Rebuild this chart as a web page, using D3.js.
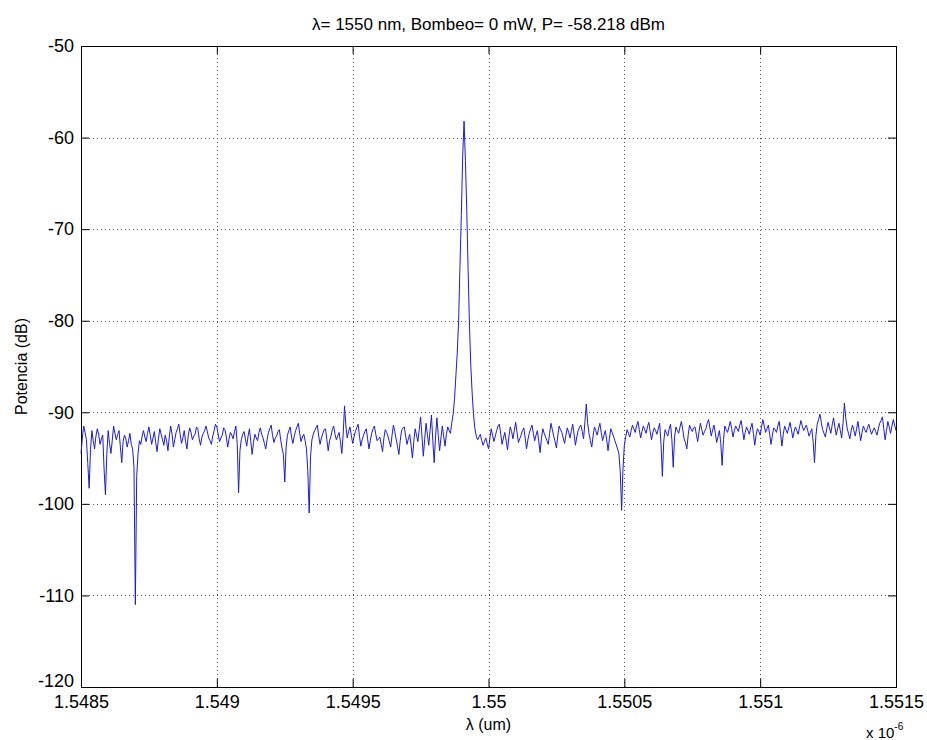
<!DOCTYPE html>
<html>
<head>
<meta charset="utf-8">
<script src="https://cdn.jsdelivr.net/npm/d3@7"></script>
<style>
    body { margin: 0; background: #fff; }
    svg text { font-family: "Liberation Sans", Arial, sans-serif; fill: #000; }
</style>
</head>
<body>
<div id="chart"></div>
<script>
// wavelength grid (um), sampled every lambdaStep
const lambdaStart = 1.5485;
const lambdaStep = 0.000005;

// measured power (dB), one value per wavelength sample
const power = [
    -94.5, -92.8, -91.5, -92.2, -93, -95.6, -98.3, -94.1, -92, -93.1, -94, -92.6, -91.8, -92.4, -93.5, -92.9, -92.5, -96.2, -99, -94.6,
    -92, -93.4, -94.5, -93.1, -91.5, -92.3, -93, -92.4, -92, -93.8, -95.5, -93.2, -92.5, -92.9, -93.8, -93.1, -92.3, -93.5, -94, -96,
    -111, -97, -94.5, -93.1, -93.5, -92.6, -92, -92.7, -93.2, -92.3, -91.6, -92.5, -93.5, -92.8, -92.1, -93.3, -94.3, -92.9, -91.8, -92.4,
    -93, -93.6, -92.5, -93.1, -94.2, -92.7, -91.5, -92.3, -93.8, -93, -92.2, -91.8, -91.3, -92.4, -93.4, -92.8, -92, -93.2, -94, -92.5,
    -91.7, -92.2, -93, -92.6, -92.4, -91.6, -91.8, -92.9, -93.6, -92.7, -92.3, -92, -91.5, -92.1, -92.8, -93.1, -93.5, -92.6, -92, -91.3,
    -91.6, -92.4, -93.2, -92.8, -92.5, -91.7, -91.9, -92.7, -93.8, -92.9, -92.2, -92.5, -92.9, -92.1, -91.5, -93.4, -98.8, -94.2, -93, -92.4,
    -92.1, -92.9, -93.7, -92.6, -91.8, -93.2, -94.6, -93.3, -92.4, -92.8, -93.1, -92.2, -91.7, -92.4, -92.8, -93.4, -94, -93, -92.2, -91.8,
    -91.4, -92.5, -93.3, -92.8, -92.6, -92.1, -91.9, -93, -93.9, -94.6, -97.6, -93.8, -92.5, -92, -91.6, -92.7, -93.4, -92.6, -92, -91.6,
    -91.2, -92.3, -93.2, -92.7, -92.4, -93.1, -94, -96.5, -101, -94.8, -93, -92.4, -92, -91.7, -91.4, -92.6, -93.5, -92.8, -92.3, -91.9,
    -91.8, -93, -94.2, -93.1, -92.6, -91.9, -91.5, -92.4, -93, -92.6, -92.2, -93.2, -94.5, -92.4, -89.3, -91.5, -92.8, -92.1, -91.6, -92.5,
    -93.4, -92.7, -92.1, -91.7, -91.3, -92.6, -93.7, -93, -92.5, -92.1, -91.8, -92.9, -94, -93.1, -92.3, -91.8, -91.5, -92.4, -93.1, -92.9,
    -92.7, -93.5, -94.3, -92.8, -91.9, -92.2, -92.6, -93.2, -93.8, -92.5, -91.4, -92.1, -92.9, -93.7, -94.6, -93.1, -92, -91.7, -91.6, -92.6,
    -93.5, -92.9, -92.4, -93.6, -95, -93.2, -91.8, -92.5, -93.2, -91.9, -90.5, -92.6, -94.8, -93, -91.2, -92.4, -93.6, -92, -90.3, -93.1,
    -95.5, -92.7, -90.6, -92.5, -94.2, -92.8, -91.5, -92.6, -93.7, -92.4, -91.6, -92, -92.3, -91.1, -90.2, -88.5, -86, -83.5, -80, -74,
    -68.5, -62, -58.218, -62.5, -68, -74.5, -80.5, -85, -88, -90.3, -91.8, -92.6, -93, -92.7, -92.4, -93.1, -93.6, -93.2, -92.8, -93.4,
    -94, -92.9, -91.8, -92.5, -93.2, -92.6, -92, -91.5, -91.3, -92.4, -93.5, -92.8, -92.2, -93.1, -94.1, -92.7, -91.6, -92.1, -92.9, -92,
    -91.1, -92.2, -93.3, -92.9, -92.5, -92, -91.7, -92.8, -94, -93, -92.3, -91.8, -91.4, -92.3, -93.1, -92.5, -92, -93.2, -94.4, -92.8,
    -91.8, -92.3, -92.7, -93.1, -93.5, -92.3, -91.2, -91.9, -92.6, -93.2, -93.9, -92.6, -91.5, -91.9, -92.2, -92.8, -93.4, -92.5, -91.7, -92.2,
    -92.8, -92, -91.3, -92.4, -93.6, -92.7, -92, -91.6, -91.4, -92.1, -92.9, -91, -89.1, -91.2, -92.3, -93.1, -93.8, -92.6, -91.6, -92,
    -92.5, -91.8, -91.2, -92.2, -93.1, -92.5, -92, -93, -94.2, -92.9, -91.8, -92.2, -92.6, -93.1, -93.5, -94, -94.5, -96.5, -100.7, -96.2,
    -93.6, -92.7, -91.9, -92.3, -92.7, -92, -91.4, -91.8, -92.2, -91.5, -91, -91.9, -92.8, -92.1, -91.5, -91.9, -92.3, -91.6, -91.1, -92.1,
    -93, -92.2, -91.7, -92, -92.4, -91.8, -91.2, -93.5, -97, -93.2, -91.9, -92.3, -92.6, -91.8, -91.3, -93, -96, -92.7, -91.6, -92,
    -92.3, -91.6, -91, -91.9, -92.9, -93.3, -94, -92.5, -91.4, -91.8, -92.1, -91.7, -91.6, -92.4, -93.2, -92.1, -91.2, -91.9, -92.5, -92.1,
    -91.8, -91.2, -90.8, -91.7, -92.6, -91.9, -91.4, -92.3, -93.3, -92.6, -92, -93.4, -95.8, -93, -91.5, -91.9, -92.2, -91.6, -91, -91.8,
    -92.7, -92, -91.5, -91.8, -92.1, -91.4, -90.9, -91.9, -93, -92.2, -91.6, -92, -92.4, -91.7, -91.2, -92.3, -93.6, -92.5, -91.8, -92.1,
    -92.5, -91.6, -90.8, -91.5, -92.2, -91.8, -91.4, -92.4, -93.5, -92.5, -91.7, -91.9, -92.2, -91.5, -91, -92.3, -93.7, -92.4, -91.5, -91.9,
    -92.3, -91.7, -91.1, -91.9, -92.8, -92.1, -91.6, -92, -92.4, -91.6, -90.9, -91.5, -92, -91.7, -91.4, -92, -92.6, -92.2, -91.8, -93.2,
    -95.5, -92.6, -91.3, -90.8, -90.2, -91.1, -91.9, -92.3, -92.7, -91.8, -91.1, -91.7, -92.3, -91.4, -90.6, -91.6, -92.5, -91.8, -91.2, -92,
    -92.8, -91.2, -89, -90.6, -91.7, -92.3, -92.9, -92, -91.4, -92, -92.6, -91.8, -91, -92.1, -93.1, -92.2, -91.5, -91.9, -92.2, -91.7,
    -91.3, -91.9, -92.4, -92, -91.7, -92.1, -92.5, -91.8, -91.2, -90.9, -90.5, -91.8, -93, -92, -91, -91.6, -92.3, -91.5, -90.8, -91.4,
    -92
];

const xTicks = [1.5485, 1.549, 1.5495, 1.55, 1.5505, 1.551, 1.5515];
const xTickLabels = ['1.5485', '1.549', '1.5495', '1.55', '1.5505', '1.551', '1.5515'];
const yTicks = [-120, -110, -100, -90, -80, -70, -60, -50];

const chartTitle = 'λ= 1550 nm, Bombeo= 0 mW, P= -58.218 dBm';
const xLabel = 'λ (um)';
const yLabel = 'Potencia (dB)';

const data = power.map((p, i) => ({ lambda: lambdaStart + i * lambdaStep, p: p }));

const W = 927, H = 740;
const margin = { top: 46, right: 31, bottom: 53, left: 81 };
const width = W - margin.left - margin.right;
const height = H - margin.top - margin.bottom;

const svg = d3.select('#chart')
    .append('svg')
    .attr('width', W)
    .attr('height', H);

const g = svg.append('g')
    .attr('transform', `translate(${margin.left}, ${margin.top})`);

const xScale = d3.scaleLinear()
    .domain([1.5485, 1.5515])
    .range([0, width]);

const yScale = d3.scaleLinear()
    .domain([-120, -50])
    .range([height, 0]);

// dotted grid
g.append('g')
    .selectAll('line')
    .data(xTicks.slice(1, -1))
    .enter()
    .append('line')
    .attr('x1', d => Math.round(xScale(d)) + 0.5)
    .attr('x2', d => Math.round(xScale(d)) + 0.5)
    .attr('y1', 0)
    .attr('y2', height)
    .attr('stroke', '#555')
    .attr('stroke-dasharray', '1,3');

g.append('g')
    .selectAll('line')
    .data(yTicks.slice(1, -1))
    .enter()
    .append('line')
    .attr('x1', 0)
    .attr('x2', width)
    .attr('y1', d => Math.round(yScale(d)) + 0.5)
    .attr('y2', d => Math.round(yScale(d)) + 0.5)
    .attr('stroke', '#555')
    .attr('stroke-dasharray', '1,3');

// axes with inward ticks on all four sides
const xAxisBottom = d3.axisBottom(xScale).tickValues(xTicks).tickSize(-8).tickFormat((d, i) => xTickLabels[i]).tickPadding(8);
const xAxisTop = d3.axisTop(xScale).tickValues(xTicks).tickSize(-8).tickFormat('');
const yAxisLeft = d3.axisLeft(yScale).tickValues(yTicks).tickSize(-8).tickFormat(d => String(d)).tickPadding(7);
const yAxisRight = d3.axisRight(yScale).tickValues(yTicks).tickSize(-8).tickFormat('');

function styleAxis(sel) {
    sel.select('.domain').attr('stroke', '#000');
    sel.selectAll('.tick line').attr('stroke', '#000');
    sel.selectAll('.tick text')
        .style('font-family', '"Liberation Sans", Arial, sans-serif')
        .style('font-size', '18px')
        .attr('fill', '#000');
}

g.append('g')
    .attr('transform', `translate(0, ${height})`)
    .call(xAxisBottom)
    .call(styleAxis);

g.append('g')
    .call(xAxisTop)
    .call(styleAxis);

g.append('g')
    .call(yAxisLeft)
    .call(styleAxis)
    // lift the bottom label off the x tick labels, as MATLAB does
    .selectAll('.tick text')
    .filter(d => d === -120)
    .attr('y', -6);

g.append('g')
    .attr('transform', `translate(${width}, 0)`)
    .call(yAxisRight)
    .call(styleAxis);

// spectrum trace
const line = d3.line()
    .x(d => xScale(d.lambda))
    .y(d => yScale(d.p));

g.append('path')
    .datum(data)
    .attr('fill', 'none')
    .attr('stroke', '#1c1cd0')
    .attr('stroke-width', 1)
    .attr('stroke-linejoin', 'round')
    .attr('d', line);

// labels
svg.append('text')
    .attr('x', margin.left + width / 2)
    .attr('y', 30)
    .attr('text-anchor', 'middle')
    .style('font-size', '17px')
    .text(chartTitle);

svg.append('text')
    .attr('x', margin.left + width / 2)
    .attr('y', 730)
    .attr('text-anchor', 'middle')
    .style('font-size', '16px')
    .text(xLabel);

svg.append('text')
    .attr('transform', `translate(27, ${margin.top + height / 2}) rotate(-90)`)
    .attr('text-anchor', 'middle')
    .style('font-size', '16px')
    .text(yLabel);

const expo = svg.append('text')
    .attr('x', 866)
    .attr('y', 738)
    .style('font-size', '15px');
expo.append('tspan').text('x 10');
expo.append('tspan').attr('dy', -8).style('font-size', '10px').text('-6');
</script>
</body>
</html>
